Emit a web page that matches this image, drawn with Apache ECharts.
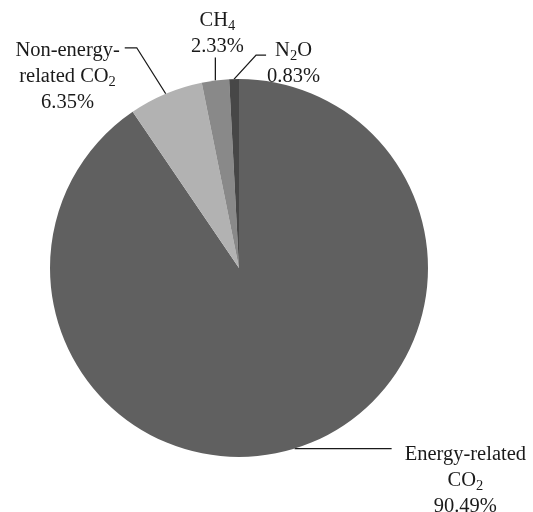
<!DOCTYPE html>
<html>
<head>
<meta charset="utf-8">
<script src="https://cdn.jsdelivr.net/npm/echarts@6/dist/echarts.min.js"></script>
<style>
  html, body { margin: 0; padding: 0; background: #ffffff; }
  #chart { width: 533px; height: 512px; }
</style>
</head>
<body>
<div id="chart"></div>
<script>
// Greenhouse-gas emission shares (%)
const categories = ['Energy-related CO2', 'Non-energy-related CO2', 'CH4', 'N2O'];
const shares = [90.49, 6.35, 2.33, 0.83];
// Label text per slice, one entry per line; {n} marks a subscript digit
const labelText = [
  ['Energy-related', 'CO{2}'],
  ['Non-energy-', 'related CO{2}'],
  ['CH{4}'],
  ['N{2}O']
];

const sliceColors = ['#606060', '#b2b2b2', '#898989', '#474747'];
const FONT = '"Liberation Serif", "Times New Roman", serif';
const LINE_H = 26;

// Leader-line route and label anchor, relative to where the line leaves the slice edge
const leaders = [
  { route: [[97, 0]], label: [110, -7], align: 'left', vAlign: 'top' },
  { route: [[-29, -46], [-41, -46]], label: [-46, -56], align: 'right', vAlign: 'top' },
  { route: [[0, -23]], label: [2, -21], align: 'center', vAlign: 'bottom' },
  { route: [[22, -24], [32, -24]], label: [33, -41], align: 'left', vAlign: 'top' }
];

function richLine(text) {
  return text.split(/\{(\d)\}/).map((part, k) => {
    if (part === '') return '';
    return k % 2 ? '{s|' + part + '}' : '{t|' + part + '}';
  }).join('');
}

const chart = echarts.init(document.getElementById('chart'), null, { renderer: 'canvas' });

chart.setOption({
  animation: false,
  backgroundColor: '#ffffff',
  series: [{
    type: 'pie',
    center: [239, 268],
    radius: 189,
    startAngle: 90,
    clockwise: true,
    avoidLabelOverlap: false,
    emphasis: { disabled: true },
    itemStyle: { borderWidth: 0 },
    data: categories.map((name, i) => ({
      name: name,
      value: shares[i],
      itemStyle: { color: sliceColors[i] }
    })),
    label: {
      show: true,
      position: 'outside',
      formatter: (p) => {
        const lines = labelText[p.dataIndex].map(richLine);
        lines.push('{t|' + shares[p.dataIndex].toFixed(2) + '%}');
        return lines.join('\n');
      },
      rich: {
        t: { fontFamily: FONT, fontSize: 20.5, color: '#1a1a1a', lineHeight: LINE_H, align: 'center' },
        s: { fontFamily: FONT, fontSize: 14.5, color: '#1a1a1a', lineHeight: 23, align: 'center', verticalAlign: 'bottom' }
      }
    },
    labelLine: {
      show: true,
      length: 10,
      length2: 10,
      minTurnAngle: 0,
      maxSurfaceAngle: 180,
      lineStyle: { color: '#1a1a1a', width: 1.3 }
    },
    labelLayout: (params) => {
      const cfg = leaders[params.dataIndex];
      const a = params.labelLinePoints[0];
      const pts = [[a[0], a[1]]].concat(cfg.route.map(d => [a[0] + d[0], a[1] + d[1]]));
      return {
        x: a[0] + cfg.label[0],
        y: a[1] + cfg.label[1],
        align: cfg.align,
        verticalAlign: cfg.vAlign,
        labelLinePoints: pts
      };
    }
  }]
});
</script>
</body>
</html>
